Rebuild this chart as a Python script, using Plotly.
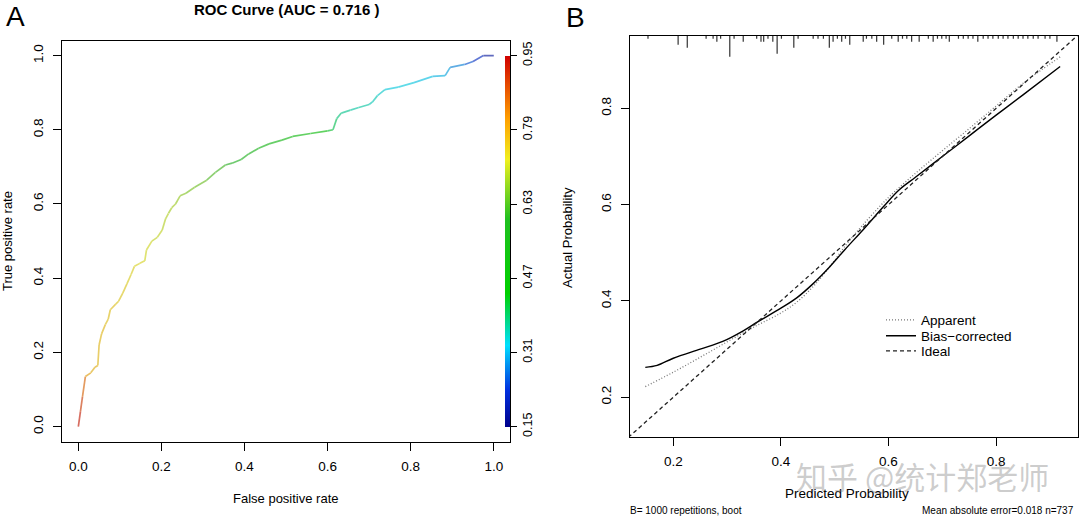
import plotly.graph_objects as go
from plotly.colors import sample_colorscale, unlabel_rgb, hex_to_rgb

W, H = 1080, 519

# ---------------- Panel A data: ROC curve ----------------
fpr = [0.0, 0.005, 0.01, 0.017, 0.03, 0.04, 0.047, 0.05, 0.056, 0.065, 0.072, 0.077, 0.09, 0.097,
       0.107, 0.117, 0.127, 0.135, 0.148, 0.16, 0.164, 0.177, 0.19, 0.202, 0.21, 0.217, 0.225, 0.234,
       0.245, 0.259, 0.28, 0.309, 0.33, 0.354, 0.37, 0.392, 0.41, 0.434, 0.459, 0.49, 0.516, 0.559,
       0.6, 0.613, 0.622, 0.633, 0.655, 0.675, 0.7, 0.708, 0.72, 0.738, 0.77, 0.808, 0.853, 0.883,
       0.895, 0.93, 0.95, 0.975, 1.0]
tpr = [0.0, 0.04, 0.08, 0.135, 0.145, 0.16, 0.165, 0.22, 0.25, 0.275, 0.29, 0.315, 0.33, 0.338,
       0.36, 0.385, 0.41, 0.432, 0.44, 0.447, 0.476, 0.5, 0.51, 0.53, 0.56, 0.575, 0.59, 0.6,
       0.622, 0.629, 0.645, 0.664, 0.685, 0.705, 0.71, 0.72, 0.735, 0.75, 0.762, 0.772, 0.782, 0.79,
       0.797, 0.8, 0.83, 0.845, 0.853, 0.86, 0.868, 0.875, 0.892, 0.908, 0.915, 0.927, 0.944, 0.946,
       0.968, 0.976, 0.984, 1.0, 1.0]
cutoff = [0.93, 0.9, 0.86, 0.8, 0.78, 0.78, 0.77, 0.77, 0.77, 0.76, 0.76, 0.76, 0.75, 0.75,
          0.75, 0.74, 0.74, 0.73, 0.73, 0.72, 0.72, 0.71, 0.71, 0.7, 0.7, 0.69, 0.69, 0.68,
          0.67, 0.66, 0.65, 0.63, 0.62, 0.6, 0.58, 0.57, 0.55, 0.53, 0.51, 0.49, 0.47, 0.45,
          0.42, 0.4, 0.38, 0.37, 0.36, 0.36, 0.35, 0.35, 0.34, 0.33, 0.33, 0.32, 0.31, 0.3,
          0.28, 0.25, 0.22, 0.18, 0.15]
cbar_ticks = [0.15, 0.31, 0.47, 0.63, 0.79, 0.95]
roc_ticks = [0.0, 0.2, 0.4, 0.6, 0.8, 1.0]

# ---------------- Panel B data: calibration ----------------
bias_x = [0.148, 0.17, 0.2, 0.25, 0.292, 0.33, 0.356, 0.4, 0.43, 0.46, 0.49, 0.52, 0.552, 0.59,
          0.619, 0.65, 0.7, 0.75, 0.8, 0.85, 0.919]
bias_y = [0.262, 0.266, 0.281, 0.3, 0.316, 0.338, 0.356, 0.385, 0.407, 0.436, 0.47, 0.508, 0.547, 0.595,
          0.63, 0.657, 0.7, 0.743, 0.786, 0.828, 0.887]
app_x = [0.148, 0.2, 0.25, 0.3, 0.35, 0.4, 0.43, 0.46, 0.49, 0.52, 0.55, 0.6, 0.65, 0.7, 0.75,
         0.8, 0.85, 0.919]
app_y = [0.222, 0.252, 0.283, 0.315, 0.346, 0.375, 0.398, 0.43, 0.47, 0.515, 0.555, 0.615, 0.665,
         0.712, 0.758, 0.805, 0.852, 0.907]
ideal = [0.0, 1.0]
rug_x = [0.153, 0.209, 0.226, 0.261, 0.274, 0.281, 0.288, 0.305, 0.313, 0.330, 0.355, 0.363, 0.368,
         0.376, 0.385, 0.393, 0.401, 0.424, 0.432, 0.460, 0.469, 0.479, 0.490, 0.497, 0.505, 0.513,
         0.520, 0.528, 0.553, 0.559, 0.569, 0.578, 0.591, 0.606, 0.618, 0.626, 0.634, 0.643, 0.657,
         0.674, 0.683, 0.691, 0.699, 0.707, 0.713, 0.730, 0.739, 0.748, 0.757, 0.766, 0.776, 0.785,
         0.794, 0.804, 0.813, 0.822, 0.832, 0.841, 0.850, 0.859, 0.869, 0.878, 0.891, 0.900, 0.913]
rug_n = [1, 3, 4, 1, 1, 2, 1, 7, 1, 2, 1, 2, 2,
         1, 2, 6, 1, 4, 1, 1, 1, 1, 4, 2, 1, 2,
         1, 3, 2, 1, 1, 2, 3, 1, 2, 1, 1, 2, 2,
         1, 2, 1, 1, 1, 2, 1, 1, 1, 1, 2, 1, 1,
         1, 1, 1, 1, 1, 1, 1, 1, 1, 1, 1, 1, 2]
cal_ticks = [0.2, 0.4, 0.6, 0.8]

FONT = "Liberation Sans, Arial, Helvetica, sans-serif"
colorscale = [[0.0, "#00008B"], [0.1, "#0030E0"], [0.22, "#00E0FF"], [0.36, "#00D000"],
              [0.56, "#20C020"], [0.72, "#F0F020"], [0.83, "#FFA000"], [1.0, "#D00000"]]


def pale(c, k=0.45, g=215):
    r, gg, b = unlabel_rgb(c) if c.startswith("rgb") else hex_to_rgb(c)
    return "rgb(%d,%d,%d)" % (r * (1 - k) + g * k, gg * (1 - k) + g * k, b * (1 - k) + g * k)


fig = go.Figure()

# ROC coloured segments
for i in range(len(fpr) - 1):
    c = sample_colorscale(colorscale, [(cutoff[i] - 0.15) / 0.8])[0]
    fig.add_trace(go.Scatter(x=[fpr[i], fpr[i + 1]], y=[tpr[i], tpr[i + 1]], mode="lines",
                             line=dict(color=pale(c), width=1.7), xaxis="x", yaxis="y",
                             showlegend=False, hoverinfo="skip"))

# colour bar carrier
fig.add_trace(go.Scatter(
    x=fpr, y=tpr, mode="markers", xaxis="x", yaxis="y", showlegend=False, hoverinfo="skip",
    marker=dict(size=1, opacity=0, color=cutoff, colorscale=colorscale, cmin=0.15, cmax=0.95,
                colorbar=dict(x=505 / W, xanchor="left", y=1 - 241.2 / H, yanchor="middle",
                              lenmode="pixels", len=371, thickness=5, thicknessmode="pixels",
                              outlinewidth=0, xpad=0, ypad=0, ticks="outside", ticklen=7,
                              tickcolor="black", tickwidth=1.2,
                              tickvals=cbar_ticks, ticktext=[f"{v:.2f}" for v in cbar_ticks],
                              tickangle=-90, tickfont=dict(size=12.5, color="black", family=FONT)))))

# Calibration curves
fig.add_trace(go.Scatter(x=app_x, y=app_y, mode="lines", name="Apparent", legend="legend",
                         line=dict(color="#777777", width=1.3, dash="1px,2px", shape="spline"),
                         xaxis="x2", yaxis="y2"))
fig.add_trace(go.Scatter(x=bias_x, y=bias_y, mode="lines", name="Bias\u2212corrected", legend="legend2",
                         line=dict(color="black", width=1.4, shape="spline"),
                         xaxis="x2", yaxis="y2"))
fig.add_trace(go.Scatter(x=ideal, y=ideal, mode="lines", name="Ideal", legend="legend3",
                         line=dict(color="#222222", width=1.3, dash="4px,3px"),
                         xaxis="x2", yaxis="y2"))

# Rug (spike histogram) along top of panel B
xr2 = [0.119, 0.952]
yr2 = [0.118, 0.951]
box_b = (629.7, 1077.9, 35.7, 436.7)  # left, right, top, bottom in pixels
unit = (yr2[1] - yr2[0]) / (box_b[3] - box_b[2]) * 3
rx, ry = [], []
for xv, n in zip(rug_x, rug_n):
    rx += [xv, xv, None]
    ry += [yr2[1], yr2[1] - n * unit, None]
fig.add_trace(go.Scatter(x=rx, y=ry, mode="lines", line=dict(color="#333333", width=1.2),
                         xaxis="x2", yaxis="y2", showlegend=False, hoverinfo="skip"))

axis_common = dict(showline=True, mirror=True, linecolor="black", linewidth=1.3, ticks="outside",
                   ticklen=8, tickwidth=1.3, tickcolor="black", showgrid=False, zeroline=False,
                   tickfont=dict(size=13.5, color="black", family=FONT))

legend_common = dict(xanchor="left", yanchor="middle", bgcolor="rgba(0,0,0,0)",
                     font=dict(size=13.5, color="black", family=FONT), borderwidth=0,
                     itemwidth=30, x=881 / W)

ann = []


def text(s, x, y, size, **kw):
    d = dict(text=s, x=x / W, y=1 - y / H, xref="paper", yref="paper", showarrow=False,
             font=dict(size=size, color=kw.pop("color", "black"), family=kw.pop("family", FONT)),
             xanchor=kw.pop("xanchor", "center"), yanchor="middle")
    d.update(kw)
    ann.append(d)


text("A", 15, 17, 28)
text("B", 575, 18, 28)
text("<b>ROC Curve (AUC = 0.716 )</b>", 286, 10, 15)
text("True positive rate", 7, 241, 13, textangle=-90)
text("False positive rate", 286, 498, 13)
text("Actual Probability", 568, 238, 13, textangle=-90)
text("Predicted Probability", 847, 493, 13.5)
text("B= 1000 repetitions, boot", 628, 510, 10, xanchor="left")
text("Mean absolute error=0.018 n=737", 1076, 510, 10, xanchor="right")
text("知乎 @统计郑老师", 922, 475, 31, color="rgba(110,110,110,0.35)",
     family="Noto Sans CJK SC")

box_a = (61.7, 510.4, 40.7, 441.5)
fig.update_layout(
    width=W, height=H, margin=dict(l=0, r=0, t=0, b=0),
    paper_bgcolor="white", plot_bgcolor="white",
    font=dict(family=FONT, color="black"),
    xaxis=dict(domain=[box_a[0] / W, box_a[1] / W], range=[-0.04, 1.04], anchor="y",
               tickvals=roc_ticks, ticktext=[f"{v:.1f}" for v in roc_ticks],
               ticklabelstandoff=4, **axis_common),
    yaxis=dict(domain=[1 - box_a[3] / H, 1 - box_a[2] / H], range=[-0.04, 1.04], anchor="x",
               tickvals=roc_ticks, ticktext=[f"{v:.1f}" for v in roc_ticks], tickangle=-90,
               ticklabelstandoff=4, **axis_common),
    xaxis2=dict(domain=[box_b[0] / W, box_b[1] / W], range=xr2, anchor="y2",
                tickvals=cal_ticks, ticktext=[f"{v:.1f}" for v in cal_ticks],
                ticklabelstandoff=4, **axis_common),
    yaxis2=dict(domain=[1 - box_b[3] / H, 1 - box_b[2] / H], range=yr2, anchor="x2",
                tickvals=cal_ticks, ticktext=[f"{v:.1f}" for v in cal_ticks], tickangle=-90,
                ticklabelstandoff=4, **axis_common),
    legend=dict(y=1 - 320 / H, **legend_common),
    legend2=dict(y=1 - 336 / H, **legend_common),
    legend3=dict(y=1 - 351 / H, **legend_common),
    annotations=ann,
)

fig.write_html("out.html", config={"displayModeBar": False},
               post_script="document.body.style.margin='0px';document.body.style.overflow='hidden';")
